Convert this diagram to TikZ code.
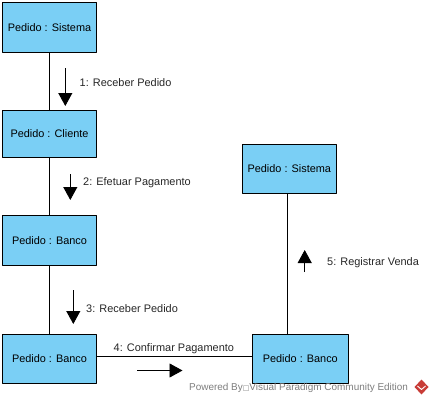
\documentclass[tikz,border=0pt]{standalone}
\usepackage{fontspec}
\setmainfont{Liberation Sans}
\newfontfamily\symbfont{DejaVu Sans}
\usetikzlibrary{arrows.meta}
\definecolor{lifelineblue}{RGB}{122,207,245}
\definecolor{markgray}{RGB}{125,125,125}
\definecolor{logored}{RGB}{200,60,55}
\tikzset{
  objbox/.style={draw=black,fill=lifelineblue,line width=0.9pt,inner sep=0pt,font=\fontsize{10.9}{12}\selectfont},
  msglabel/.style={anchor=west,inner sep=0pt,text=black!85,font=\fontsize{10.95}{12}\selectfont},
  link/.style={line width=0.9pt},
  msgarrow/.style={line width=0.9pt,-{Triangle[length=13pt,width=14pt]}},
}

\begin{document}
\begin{tikzpicture}[x=1pt, y=-1pt, line join=bevel]
\useasboundingbox (0,0) rectangle (433,404);

\node[objbox,minimum width=94pt,minimum height=50pt](sistemaA) at (49.5,27.5) {Pedido : Sistema};
\node[objbox,minimum width=94pt,minimum height=47pt](cliente) at (49.5,133.8) {Pedido : Cliente};
\node[objbox,minimum width=94pt,minimum height=50pt](bancoA) at (49.5,240.2) {Pedido : Banco};
\node[objbox,minimum width=94pt,minimum height=48.6pt](bancoB) at (49.5,359) {Pedido : Banco};
\node[objbox,minimum width=96pt,minimum height=49pt](bancoC) at (300.3,358.8) {Pedido : Banco};
\node[objbox,minimum width=94pt,minimum height=49pt](sistemaB) at (289.3,168.8) {Pedido : Sistema};

\draw[link] (sistemaA) -- (cliente);
\draw[link] (cliente) -- (bancoA);
\draw[link] (bancoA) -- (bancoB);
\draw[link] (bancoB.east |- 0,356) -- (bancoC.west |- 0,356);
\draw[link] (sistemaB.south -| 287.3,0) -- (bancoC.north -| 287.3,0);

\coordinate (a1s) at (65.3,68);
\coordinate (a1e) at (65.3,106);
\coordinate (a2s) at (70.3,174);
\coordinate (a2e) at (70.3,200);
\coordinate (a3s) at (73.3,290);
\coordinate (a3e) at (73.3,324);
\coordinate (a4s) at (137,370.5);
\coordinate (a4e) at (182.5,370.5);
\coordinate (a5s) at (304.7,272);
\coordinate (a5e) at (304.7,250);

\draw[msgarrow] (a1s) -- (a1e);
\draw[msgarrow] (a2s) -- (a2e);
\draw[msgarrow] (a3s) -- (a3e);
\draw[msgarrow] (a4s) -- (a4e);
\draw[msgarrow] (a5s) -- (a5e);

\node[msglabel](m1) at (79.5,82.6) {1: Receber Pedido};
\node[msglabel](m2) at (83,183) {2: Efetuar Pagamento};
\node[msglabel](m3) at (86,308.6) {3: Receber Pedido};
\node[msglabel](m4) at (113.5,348.4) {4: Confirmar Pagamento};
\node[msglabel](m5) at (327,263) {5: Registrar Venda};

% watermark
\node[anchor=west,inner sep=0pt,text=markgray,font=\fontsize{9.95}{11}\selectfont](powered) at (189,387.5) {Powered By{\symbfont\fontsize{7}{8}\selectfont □}Visual Paradigm Community Edition};
\fill[logored] (421.5,379.5) -- (428.5,387) -- (421.5,394.5) -- (414.5,387) -- cycle;
\draw[white,line width=0.9pt] (417.5,386) -- (421.5,389.5) -- (425.5,386);
\end{tikzpicture}
\end{document}
